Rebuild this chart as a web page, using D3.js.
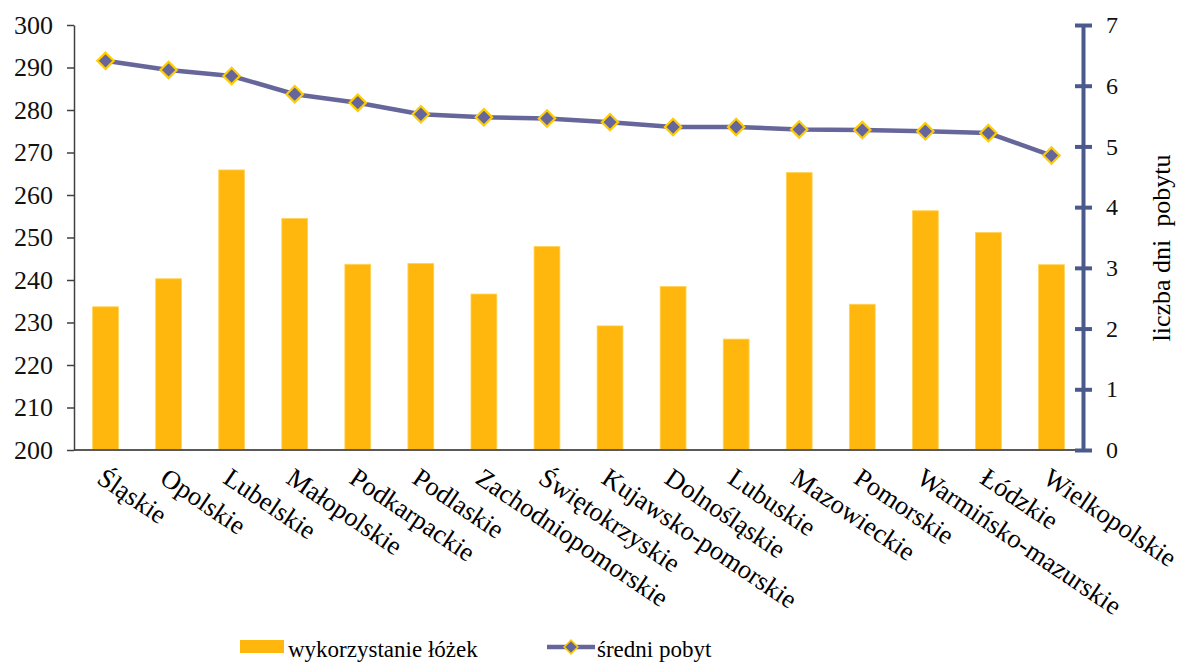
<!DOCTYPE html>
<html>
<head>
<meta charset="utf-8">
<script src="https://cdn.jsdelivr.net/npm/d3@7"></script>
<style>
  html, body { margin: 0; padding: 0; background: #fff; }
  svg { display: block; }
</style>
</head>
<body>
<svg id="chart" width="1184" height="662"></svg>
<script>
// Województwa, ordered by average length of stay
const regions = [
  "Śląskie", "Opolskie", "Lubelskie", "Małopolskie", "Podkarpackie", "Podlaskie",
  "Zachodniopomorskie", "Świętokrzyskie", "Kujawsko-pomorskie", "Dolnośląskie",
  "Lubuskie", "Mazowieckie", "Pomorskie", "Warmińsko-mazurskie", "Łódzkie", "Wielkopolskie"
];
// wykorzystanie łóżek (dni w roku)
const bedUse = [233.7, 240.3, 265.9, 254.5, 243.7, 243.9, 236.7, 247.9,
                229.2, 238.5, 226.1, 265.3, 234.3, 256.3, 251.2, 243.6];
// średni pobyt (dni)
const avgStay = [6.41, 6.26, 6.16, 5.86, 5.72, 5.53, 5.48, 5.46,
                 5.40, 5.32, 5.32, 5.28, 5.27, 5.25, 5.22, 4.85];
const leftTicks = [200, 210, 220, 230, 240, 250, 260, 270, 280, 290, 300];
const rightTicks = [0, 1, 2, 3, 4, 5, 6, 7];
const seriesNames = ["wykorzystanie łóżek", "średni pobyt"];
const rightTitle = "liczba dni  pobytu";

const FONT = '"Liberation Serif", "Times New Roman", serif';
const svg = d3.select("#chart").attr("font-family", FONT);
const plot = { left: 74, right: 1083, top: 25, bottom: 450 };

const barColor = "#FFB70D";
const lineColor = "#66669A";
const markerStroke = "#FFCC00";
const rightAxisColor = "#4A5A8C";

const x = d3.scaleBand().domain(regions).range([plot.left, plot.right]).paddingInner(0.59).paddingOuter(0.295);
const yL = d3.scaleLinear().domain([200, 300]).range([plot.bottom, plot.top]);
const yR = d3.scaleLinear().domain([0, 7]).range([plot.bottom, plot.top]);

// bars
svg.append("g").selectAll("rect").data(regions).join("rect")
  .attr("x", d => x(d))
  .attr("width", x.bandwidth())
  .attr("y", (d, i) => yL(bedUse[i]))
  .attr("height", (d, i) => plot.bottom - yL(bedUse[i]))
  .attr("fill", barColor)
  .attr("stroke", "#FFD45A")
  .attr("stroke-width", 0.8);

// category axis line
svg.append("line")
  .attr("x1", plot.left).attr("x2", plot.right)
  .attr("y1", plot.bottom).attr("y2", plot.bottom)
  .attr("stroke", "#595959").attr("stroke-width", 2);

// left axis
const gL = svg.append("g").attr("transform", `translate(${plot.left},0)`)
  .call(d3.axisLeft(yL).tickValues(leftTicks).tickSize(7).tickSizeOuter(0).tickPadding(14));
gL.attr("font-family", FONT).attr("font-size", 26);
gL.select(".domain").attr("stroke", "#404040").attr("stroke-width", 1.5);
gL.selectAll(".tick line").attr("stroke", "#404040").attr("stroke-width", 1.5);
gL.selectAll(".tick text").attr("fill", "#111").style("font-family", FONT);

// line series
const cx = d => x(d) + x.bandwidth() / 2;
const line = d3.line().x(d => cx(d)).y((d, i) => yR(avgStay[i]));
svg.append("path").datum(regions)
  .attr("d", line)
  .attr("fill", "none")
  .attr("stroke", lineColor)
  .attr("stroke-width", 4.5)
  .attr("stroke-linejoin", "round");

const diamond = d3.symbol().type(d3.symbolDiamond2).size(170);
svg.append("g").selectAll("path").data(regions).join("path")
  .attr("d", diamond)
  .attr("transform", (d, i) => `translate(${cx(d)},${yR(avgStay[i])})`)
  .attr("fill", lineColor)
  .attr("stroke", markerStroke)
  .attr("stroke-width", 2.2);

// right axis
const gR = svg.append("g").attr("transform", `translate(${plot.right},0)`)
  .call(d3.axisRight(yR).tickValues(rightTicks).tickFormat(d3.format("d"))
    .tickSize(9).tickSizeOuter(0).tickPadding(14));
gR.attr("font-family", FONT).attr("font-size", 24);
gR.select(".domain").attr("stroke", rightAxisColor).attr("stroke-width", 4);
gR.selectAll(".tick line").attr("x1", -8).attr("stroke", rightAxisColor).attr("stroke-width", 4);
gR.selectAll(".tick text").attr("fill", "#111").style("font-family", FONT);

svg.append("text")
  .attr("transform", `translate(1170,248) rotate(-90)`)
  .attr("text-anchor", "middle")
  .attr("font-size", 26)
  .attr("xml:space", "preserve")
  .style("white-space", "pre")
  .style("font-family", FONT)
  .text(rightTitle);

// rotated category labels
svg.append("g").selectAll("text").data(regions).join("text")
  .attr("transform", d => `translate(${cx(d) - 10},${plot.bottom + 32}) rotate(34)`)
  .attr("text-anchor", "start")
  .attr("font-size", 26.5)
  .style("font-family", FONT)
  .text(d => d);

// legend
const lg = svg.append("g").attr("font-size", 23).style("font-family", FONT);
lg.append("rect").attr("x", 240).attr("y", 640).attr("width", 44).attr("height", 13).attr("fill", barColor);
lg.append("text").attr("x", 288).attr("y", 657).text(seriesNames[0]);
lg.append("line").attr("x1", 547).attr("x2", 595).attr("y1", 647).attr("y2", 647)
  .attr("stroke", lineColor).attr("stroke-width", 4.5);
lg.append("path").attr("d", d3.symbol().type(d3.symbolDiamond2).size(120))
  .attr("transform", "translate(571,647)")
  .attr("fill", lineColor).attr("stroke", markerStroke).attr("stroke-width", 1.5);
lg.append("text").attr("x", 597).attr("y", 657).text(seriesNames[1]);
</script>
</body>
</html>
